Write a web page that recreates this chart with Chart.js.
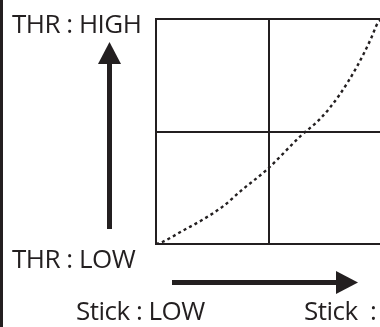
<!DOCTYPE html>
<html lang="en">
<head>
    <meta charset="UTF-8">
    <title>THR curve</title>
    <style>
        html, body { margin: 0; padding: 0; background: #fff; }
        body { width: 380px; height: 327px; overflow: hidden; position: relative; }
        #wrap { position: absolute; left: 0; top: 0; width: 400px; height: 327px; }
        .lbl {
            position: absolute;
            font-family: "Open Sans", sans-serif;
            font-size: 26px;
            line-height: 26px;
            letter-spacing: -0.5px;
            color: #231f20;
            white-space: nowrap;
        }
    </style>
</head>
<body>
    <div id="wrap">
        <canvas id="curveChart" width="400" height="327"></canvas>
    </div>
    <span class="lbl" style="left:12px; top:10px;">THR : HIGH</span>
    <span class="lbl" style="left:12px; top:245px;">THR : LOW</span>
    <span class="lbl" style="left:76px; top:297px;">Stick : LOW</span>
    <span class="lbl" style="left:304px; top:297px; word-spacing:6px;">Stick : HIGH</span>

    <script src="https://cdn.jsdelivr.net/npm/chart.js"></script>
    <script>
        // stick position (%) and throttle output (%)
        const stickPos = [0, 3, 12, 21, 30, 38, 49, 64, 73, 81, 89, 95, 98, 100];
        const throttle = [0, 1, 6, 11, 17, 24, 33, 48, 56, 66, 79, 91, 98, 100];
        const gridTicks = [0, 50, 100];

        const ink = '#231f20';

        // arrows and the dark strip on the left edge
        const decor = {
            id: 'decor',
            afterDraw(chart) {
                const c = chart.ctx;
                c.save();
                c.fillStyle = ink;
                c.fillRect(0, 0, 3, 327);
                // up arrow
                c.fillRect(107, 60, 5, 169);
                c.beginPath();
                c.moveTo(109.5, 42);
                c.lineTo(121, 64);
                c.lineTo(98, 64);
                c.closePath();
                c.fill();
                // right arrow
                c.fillRect(172, 280, 167, 5);
                c.beginPath();
                c.moveTo(358, 282.5);
                c.lineTo(336, 271);
                c.lineTo(336, 294);
                c.closePath();
                c.fill();
                c.restore();
            }
        };

        const ctx = document.getElementById('curveChart').getContext('2d');
        const curveChart = new Chart(ctx, {
            type: 'scatter',
            data: {
                datasets: [{
                    data: stickPos.map((x, i) => ({ x: x, y: throttle[i] })),
                    showLine: true,
                    borderColor: ink,
                    borderWidth: 2.4,
                    borderDash: [3, 3.2],
                    pointRadius: 0,
                    cubicInterpolationMode: 'monotone',
                    fill: false
                }]
            },
            options: {
                responsive: false,
                animation: false,
                layout: { padding: { left: 156, top: 19, right: 18, bottom: 83 } },
                plugins: {
                    legend: { display: false },
                    tooltip: { enabled: false }
                },
                scales: {
                    x: {
                        type: 'linear',
                        min: 0, max: 100,
                        afterBuildTicks: (s) => { s.ticks = gridTicks.map(v => ({ value: v })); },
                        ticks: { display: false },
                        grid: { color: ink, lineWidth: 2, drawTicks: false },
                        border: { color: ink, width: 2 }
                    },
                    y: {
                        type: 'linear',
                        min: 0, max: 100,
                        afterBuildTicks: (s) => { s.ticks = gridTicks.map(v => ({ value: v })); },
                        ticks: { display: false },
                        grid: { color: ink, lineWidth: 2, drawTicks: false },
                        border: { color: ink, width: 2 }
                    }
                }
            },
            plugins: [decor]
        });
    </script>
</body>
</html>
